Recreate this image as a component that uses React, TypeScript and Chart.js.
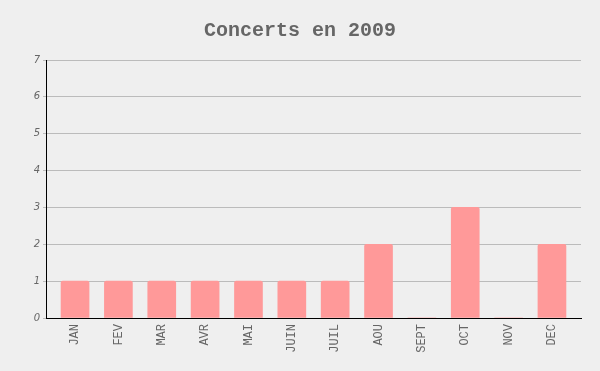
import React, { useEffect, useRef } from "react";
import { Chart, registerables } from "chart.js";

Chart.register(...registerables);

const months = ["JAN", "FEV", "MAR", "AVR", "MAI", "JUIN", "JUIL", "AOU", "SEPT", "OCT", "NOV", "DEC"];
const concerts = [1, 1, 1, 1, 1, 1, 1, 2, 0, 3, 0, 2];
const yTicks = [0, 1, 2, 3, 4, 5, 6, 7];
const titleText = "Concerts en 2009";

export default function App() {
  const ref = useRef<HTMLCanvasElement | null>(null);
  useEffect(() => {
    document.body.style.margin = "0";
    const ctx = ref.current!;
    const chart = new Chart(ctx, {
      type: "bar",
      data: {
        datasets: [
          {
            data: concerts.map((v, i) => ({ x: i, y: v })),
            backgroundColor: "#ff9999",
            borderWidth: 0,
            borderRadius: { topLeft: 2, topRight: 2, bottomLeft: 0, bottomRight: 0 },
            borderSkipped: "bottom",
            barThickness: 28,
          },
        ],
      },
      options: {
        animation: false,
        responsive: false,
        maintainAspectRatio: false,
        layout: { padding: 0 },
        plugins: {
          legend: { display: false },
          tooltip: { enabled: false },
          title: {
            display: true,
            text: titleText,
            color: "#666666",
            font: { family: "'Liberation Mono', 'Courier New', monospace", size: 20, weight: "bold", lineHeight: 1.2 },
            padding: { top: 19, bottom: 17 },
          },
        },
        scales: {
          x: {
            type: "linear",
            offset: false,
            min: -0.67,
            max: 11.67,
            afterBuildTicks: (scale: any) => {
              scale.ticks = months.map((_, i) => ({ value: i }));
            },
            afterFit: (scale: any) => {
              scale.height = 53;
            },
            grid: { display: false, drawTicks: false },
            border: { display: true, color: "#000000", width: 1 },
            ticks: {
              autoSkip: false,
              minRotation: 90,
              maxRotation: 90,
              padding: 6,
              color: "#666666",
              font: { family: "'Liberation Mono', 'Courier New', monospace", size: 12 },
              callback: (v: any) => months[Math.round(v)] ?? "",
            },
          },
          y: {
            min: 0,
            max: 7,
            afterBuildTicks: (scale: any) => {
              scale.ticks = yTicks.map((v) => ({ value: v }));
            },
            afterFit: (scale: any) => {
              scale.width = 46;
            },
            grid: { color: "#bbbbbb", lineWidth: 1, drawTicks: true, tickLength: 3 },
            border: { display: true, color: "#000000", width: 1 },
            ticks: {
              padding: 3,
              color: "#666666",
              font: { family: "'DejaVu Sans', sans-serif", size: 10, style: "italic" },
            },
          },
          yRight: {
            position: "right",
            min: 0,
            max: 7,
            afterFit: (scale: any) => {
              scale.width = 19;
            },
            grid: { display: false, drawTicks: false },
            border: { display: false },
            ticks: { display: false },
          },
        },
      },
      plugins: [
        {
          id: "bg",
          beforeDraw: (c: any) => {
            const g = c.ctx;
            g.save();
            g.fillStyle = "#efefef";
            g.fillRect(0, 0, c.width, c.height);
            g.restore();
          },
        },
      ],
    });
    return () => chart.destroy();
  }, []);
  return (
    <div style={{ width: 600, height: 371 }}>
      <canvas ref={ref} width={600} height={371} style={{ display: "block" }} />
    </div>
  );
}
